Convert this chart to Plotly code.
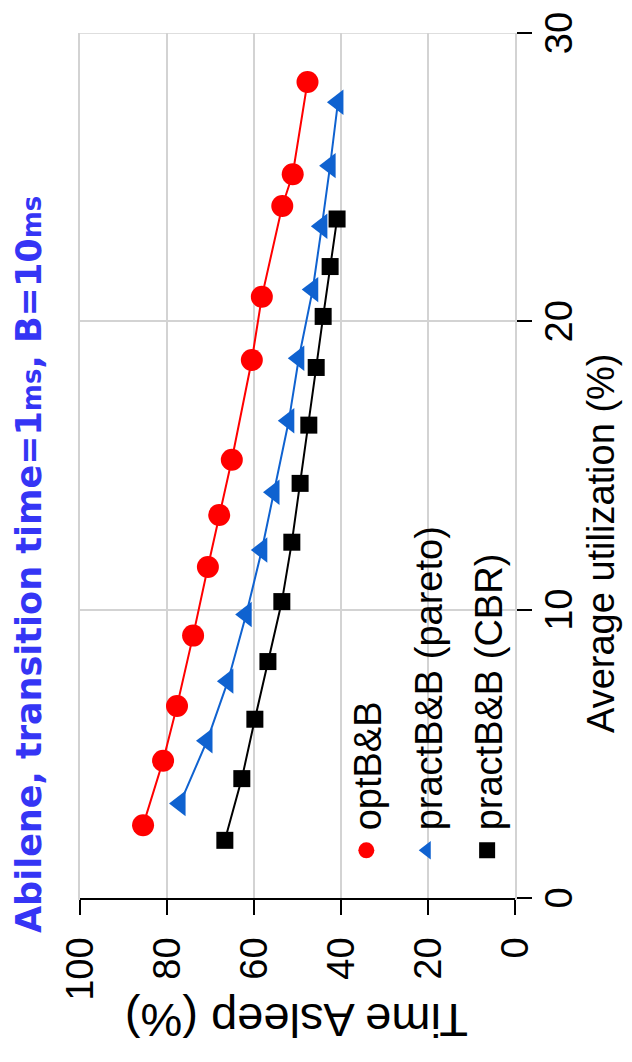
import plotly.graph_objects as go

# ---- data ----
opt_util = [2.52, 4.76, 6.66, 9.10, 11.48, 13.28, 15.2, 18.66, 20.85, 24.0, 25.1, 28.3]
opt_time = [85.5, 80.9, 77.7, 74.0, 70.6, 68.0, 65.1, 60.5, 58.2, 53.5, 51.1, 47.7]

pareto_util = [3.28, 5.45, 7.52, 9.83, 12.07, 14.07, 16.55, 18.72, 21.1, 23.3, 25.4, 27.6]
pareto_time = [77.0, 70.8, 66.0, 61.8, 58.2, 55.4, 52.0, 49.7, 46.5, 44.4, 42.5, 40.7]

cbr_util = [2.0, 4.14, 6.2, 8.2, 10.28, 12.34, 14.38, 16.4, 18.4, 20.17, 21.9, 23.55]
cbr_time = [66.7, 62.8, 59.8, 56.8, 53.6, 51.3, 49.4, 47.4, 45.7, 44.1, 42.5, 40.9]

series_names = ["optB&B", "practB&B (pareto)", "practB&B (CBR)"]
x_ticks = [0, 10, 20, 30]
y_ticks = [0, 20, 40, 60, 80, 100]

FONT = "Liberation Sans, Arial, sans-serif"
GRID = "#D3D3D3"

series = [
    (opt_util, opt_time, series_names[0], "#FF0000", "circle", 22),
    (pareto_util, pareto_time, series_names[1], "#0F62D0", "triangle-up", 22),
    (cbr_util, cbr_time, series_names[2], "#000000", "square", 17),
]

fig = go.Figure()
for xs, ys, name, col, sym, sz in series:
    fig.add_trace(go.Scatter(x=xs, y=ys, mode="lines", line=dict(color=col, width=2),
                             showlegend=False, hoverinfo="skip"))
for xs, ys, name, col, sym, sz in series:
    fig.add_trace(go.Scatter(x=xs, y=ys, mode="markers", name=name, legendgroup=name,
                             marker=dict(color=col, symbol=sym, size=sz, line=dict(width=0))))

fig.update_layout(
    width=1062, height=632,
    margin=dict(l=164, r=28, t=80, b=117),
    paper_bgcolor="white", plot_bgcolor="white",
    font=dict(family=FONT, color="black"),
    showlegend=True,
    legend=dict(x=0.032, y=0.202, xanchor="left", yanchor="middle",
                font=dict(family=FONT, size=38, color="black"),
                bgcolor="rgba(0,0,0,0)", tracegroupgap=8, itemsizing="trace"),
    xaxis=dict(range=[0, 30], tickvals=x_ticks, ticktext=[str(v) for v in x_ticks],
               showgrid=True, gridcolor=GRID, gridwidth=1.5,
               zeroline=False, showline=True, linecolor=GRID, linewidth=1.5, mirror=True,
               ticks="outside", ticklen=15, tickwidth=1.5, tickcolor="black",
               tickfont=dict(family=FONT, size=38, color="black"), ticklabelstandoff=-5),
    yaxis=dict(range=[0, 100], tickvals=y_ticks, ticktext=[str(v) for v in y_ticks],
               showgrid=True, gridcolor=GRID, gridwidth=1.5,
               zeroline=False, showline=True, linecolor="black", linewidth=1.5,
               ticks="outside", ticklen=15, tickwidth=1.5, tickcolor="black",
               tickfont=dict(family=FONT, size=38, color="black"), ticklabelstandoff=15),
)

# gray grid line at the last utilization tick (right edge of the plot)
fig.add_shape(type="line", xref="x", yref="paper", x0=x_ticks[-1], x1=x_ticks[-1], y0=0, y1=1,
              line=dict(color=GRID, width=1.5), layer="below")

fig.add_annotation(text="Average utilization (%)", xref="paper", yref="paper",
                   x=0.41, y=-0.197, xanchor="center", yanchor="middle", showarrow=False,
                   font=dict(family=FONT, size=38, color="black"))
fig.add_annotation(text="Time Asleep (%)", xref="paper", yref="paper",
                   x=-0.1425, y=0.503, xanchor="center", yanchor="middle", showarrow=False,
                   textangle=-90, font=dict(family=FONT, size=47, color="black"))
fig.add_annotation(text="Abilene, transition time=1<span style='font-size:26px'>ms</span>, B=10<span style='font-size:26px'>ms</span>",
                   xref="paper", yref="paper", x=0.385, y=1.117, xanchor="center", yanchor="middle",
                   showarrow=False, font=dict(family="DejaVu Sans, Verdana, sans-serif", size=35, color="#3535F5", weight="bold"))

post = """
var gd = document.getElementById('{plot_id}');
document.documentElement.style.overflow = 'hidden';
document.body.style.margin = '0';
document.body.style.overflow = 'hidden';
gd.style.position = 'absolute';
gd.style.left = '0px';
gd.style.top = '0px';
gd.style.transformOrigin = '0 0';
gd.style.transform = 'translate(0px, 1062px) rotate(-90deg)';
"""

fig.write_html("out.html", post_script=post, config={"displayModeBar": False})
